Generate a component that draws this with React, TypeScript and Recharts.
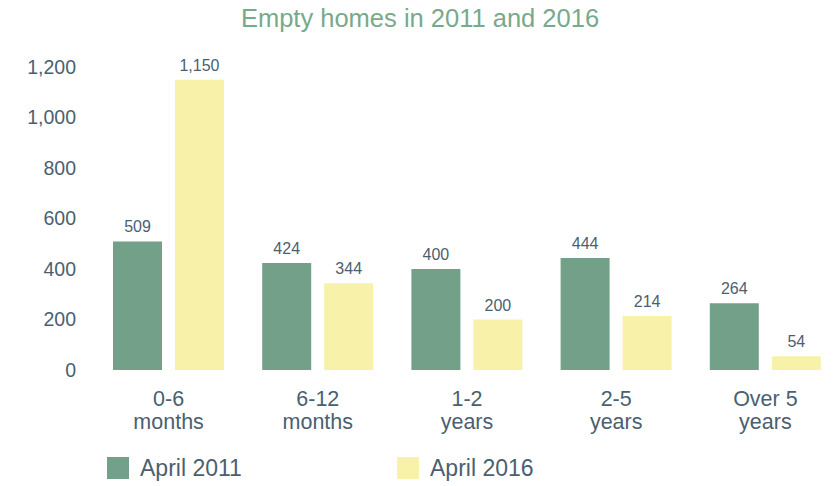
import React from 'react';
import { BarChart, Bar, XAxis, YAxis, LabelList } from 'recharts';

const categories = ['0-6|months', '6-12|months', '1-2|years', '2-5|years', 'Over 5|years'];
const april2011 = [509, 424, 400, 444, 264];
const april2016 = [1150, 344, 200, 214, 54];
const yTicks = [0, 200, 400, 600, 800, 1000, 1200];
const seriesNames = ['April 2011', 'April 2016'];
const title = 'Empty homes in 2011 and 2016';

const GREEN = '#72a089';
const YELLOW = '#f8f1a9';
const TEXT = '#4b5f70';
const FONT = '"Liberation Sans", Arial, Helvetica, sans-serif';

const data = categories.map((c, i) => ({ cat: c, a: april2011[i], b: april2016[i] }));

const fmt = (v: number) => v.toLocaleString('en-US');

const XTick = (props: any) => {
  const { x, y, payload } = props;
  const lines = String(payload.value).split('|');
  return (
    <g>
      {lines.map((l, i) => (
        <text key={i} x={x} y={y + 28 + i * 23} textAnchor="middle" fill={TEXT} fontSize={21.5} fontFamily={FONT}>
          {l}
        </text>
      ))}
    </g>
  );
};

export default function App() {
  return (
    <div style={{ position: 'absolute', left: 0, top: 0, width: 840, height: 486, background: '#fff', fontFamily: FONT }}>
      <BarChart
        width={840}
        height={486}
        data={data}
        margin={{ top: 67, right: 0, left: 0, bottom: 0 }}
        barGap={13}
        barCategoryGap={19}
      >
        <XAxis dataKey="cat" axisLine={false} tickLine={false} height={116} tick={<XTick />} interval={0} />
        <YAxis
          width={94}
          domain={[0, 1200]}
          ticks={yTicks}
          axisLine={false}
          tickLine={false}
          tickMargin={12}
          tickFormatter={fmt}
          tick={{ fill: TEXT, fontSize: 19.5, fontFamily: FONT }}
          interval={0}
        />
        <Bar dataKey="a" name={seriesNames[0]} fill={GREEN} isAnimationActive={false}>
          <LabelList dataKey="a" position="top" offset={9} formatter={(v: any) => fmt(Number(v))} fill={TEXT} fontSize={16} fontFamily={FONT} />
        </Bar>
        <Bar dataKey="b" name={seriesNames[1]} fill={YELLOW} isAnimationActive={false}>
          <LabelList dataKey="b" position="top" offset={9} formatter={(v: any) => fmt(Number(v))} fill={TEXT} fontSize={16} fontFamily={FONT} />
        </Bar>
      </BarChart>
      <svg width={840} height={486} style={{ position: 'absolute', left: 0, top: 0, pointerEvents: 'none' }}>
        <text x={420} y={27} textAnchor="middle" fill="#78a98b" fontSize={25.5} fontFamily={FONT}>
          {title}
        </text>
        <rect x={107} y={457} width={22} height={22} fill={GREEN} />
        <text x={140} y={476} fill={TEXT} fontSize={23} fontFamily={FONT}>
          {seriesNames[0]}
        </text>
        <rect x={397} y={457} width={22} height={22} fill={YELLOW} />
        <text x={430} y={476} fill={TEXT} fontSize={23} fontFamily={FONT}>
          {seriesNames[1]}
        </text>
      </svg>
    </div>
  );
}
